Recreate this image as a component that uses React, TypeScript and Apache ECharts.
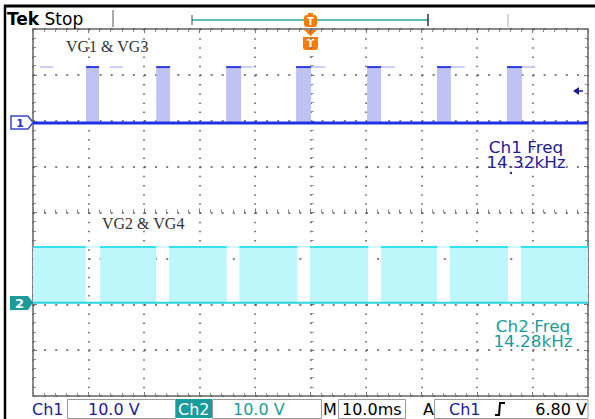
import React, { useEffect, useRef } from "react";
import * as echarts from "echarts";

// Time base: 10 ms/div, 10 divisions
const timeTicks = [0, 10, 20, 30, 40, 50, 60, 70, 80, 90, 100];
// Vertical: 10 V/div, 8 divisions (display volts)
const voltRange = [-40, 40];

// Channel 1 (VG1 & VG3)
const ch1Ground = 19.5;
const ch1Amplitude = 12.2;
const ch1PulseStart = [9.55, 22.2, 34.8, 47.4, 60.2, 72.8, 85.4];
const ch1PulseEnd = [11.9, 24.7, 37.5, 50.1, 62.7, 75.3, 88.1];
const ch1GhostStart = [1.3, 13.9, 37.5, 50.1, 62.7, 75.3, 88.1];
const ch1GhostEnd = [3.6, 16.2, 39.6, 52.6, 65.2, 77.8, 90.5];

// Channel 2 (VG2 & VG4)
const ch2Ground = -19.7;
const ch2Amplitude = 12.2;
const ch2HighStart = [0, 12.1, 24.5, 37.2, 49.9, 62.7, 75.1, 87.9];
const ch2HighEnd = [9.5, 22.2, 34.9, 47.6, 60.4, 72.8, 85.6, 100];

const ch1Label = "VG1 & VG3";
const ch2Label = "VG2 & VG4";
const ch1FreqText = ["Ch1 Freq", "14.32kHz"];
const ch2FreqText = ["Ch2 Freq", "14.28kHz"];

const NAVY = "#1c1c96";
const TEAL = "#1a9c9c";
const SANS = "DejaVu Sans";

function pulseSeries(name: string, starts: number[], ends: number[], lo: number, hi: number, fill: string, top: string, z: number) {
  return {
    name,
    type: "custom",
    z,
    data: starts.map((s, i) => [s, ends[i], lo, hi]),
    renderItem: (_p: any, api: any) => {
      const a = api.coord([api.value(0), api.value(3)]);
      const b = api.coord([api.value(1), api.value(2)]);
      return {
        type: "group",
        children: [
          { type: "rect", shape: { x: a[0], y: a[1], width: b[0] - a[0], height: b[1] - a[1] }, style: { fill } },
          { type: "line", shape: { x1: a[0], y1: a[1], x2: b[0], y2: a[1] }, style: { stroke: top, lineWidth: 2 } },
        ],
      };
    },
  };
}

function ghostSeries(starts: number[], ends: number[], level: number, color: string) {
  return {
    type: "custom",
    z: 2,
    data: starts.map((s, i) => [s, ends[i], level]),
    renderItem: (_p: any, api: any) => {
      const a = api.coord([api.value(0), api.value(2)]);
      const b = api.coord([api.value(1), api.value(2)]);
      return { type: "line", shape: { x1: a[0], y1: a[1], x2: b[0], y2: b[1] }, style: { stroke: color, lineWidth: 2 } };
    },
  };
}

function flatLine(level: number, color: string, width: number, z: number) {
  return {
    type: "line",
    z,
    symbol: "none",
    data: [[timeTicks[0], level], [timeTicks[timeTicks.length - 1], level]],
    lineStyle: { color, width },
  };
}

export default function App() {
  const ref = useRef<HTMLDivElement>(null);
  useEffect(() => {
    const chart = echarts.init(ref.current!, undefined, { renderer: "svg" });
    const tickCommon = {
      axisLabel: { show: false },
      axisTick: { show: true, inside: true, length: 4, lineStyle: { color: "#777", width: 1 } },
      minorTick: { show: true, splitNumber: 5, length: 3, lineStyle: { color: "#888", width: 1 } },
    };
    const xBase = { type: "value", min: timeTicks[0], max: timeTicks[timeTicks.length - 1], interval: 10 };
    const yBase = { type: "value", min: voltRange[0], max: voltRange[1], interval: 10 };
    chart.setOption({
      animation: false,
      backgroundColor: "#ffffff",
      grid: { left: 33, top: 29, width: 555, height: 367, show: true, borderColor: "#8a8a8a", borderWidth: 2, backgroundColor: "transparent" },
      xAxis: [
        {
          ...xBase, position: "bottom",
          axisLine: { show: false, onZero: false },
          ...tickCommon,
          splitLine: { show: true, lineStyle: { color: "#555", width: 1.5, type: [1.5, 7.675] } },
        },
        { ...xBase, position: "top", axisLine: { show: false, onZero: false }, ...tickCommon, splitLine: { show: false } },
        { ...xBase, position: "bottom", offset: -183.5, axisLine: { show: false, onZero: false }, ...tickCommon, splitLine: { show: false } },
      ],
      yAxis: [
        {
          ...yBase, position: "left",
          axisLine: { show: false, onZero: false },
          ...tickCommon,
          splitLine: { show: true, lineStyle: { color: "#555", width: 1.6, type: [2, 9.1] } },
        },
        { ...yBase, position: "right", axisLine: { show: false, onZero: false }, ...tickCommon, splitLine: { show: false } },
        { ...yBase, position: "left", offset: -277.5, axisLine: { show: false, onZero: false }, ...tickCommon, splitLine: { show: false } },
      ],
      series: [
        ghostSeries(ch1GhostStart, ch1GhostEnd, ch1Ground + ch1Amplitude, "#c9cef5"),
        flatLine(ch2Ground + ch2Amplitude, "#c4f4f7", 1.5, 2),
        pulseSeries("Ch2", ch2HighStart, ch2HighEnd, ch2Ground, ch2Ground + ch2Amplitude, "#bdf6fb", "#33e2ee", 3),
        pulseSeries("Ch1", ch1PulseStart, ch1PulseEnd, ch1Ground, ch1Ground + ch1Amplitude, "#bfc3f3", "#2c3ce0", 3),
        flatLine(ch1Ground, "#1f31e4", 3, 4),
        flatLine(ch2Ground, "#2ad6de", 2, 4),
      ],
      graphic: [
        // frame
        { type: "line", shape: { x1: 4, y1: 6, x2: 595, y2: 6 }, style: { stroke: "#000", lineWidth: 3 } },
        { type: "line", shape: { x1: 5, y1: 5, x2: 5, y2: 419 }, style: { stroke: "#000", lineWidth: 2.5 } },
        // top status
        { type: "text", x: 7, y: 19, style: { text: "{b|Tek} Stop", font: `17px ${SANS}`, fill: "#000", verticalAlign: "middle", rich: { b: { font: `bold 17px ${SANS}`, fill: "#000" } } } },
        { type: "line", shape: { x1: 113, y1: 10, x2: 113, y2: 27 }, style: { stroke: "#555", lineWidth: 1 } },
        { type: "line", shape: { x1: 192, y1: 20, x2: 428, y2: 20 }, style: { stroke: "#2aa6a6", lineWidth: 1.5 } },
        { type: "line", shape: { x1: 192, y1: 15, x2: 192, y2: 25 }, style: { stroke: "#444", lineWidth: 1 } },
        { type: "line", shape: { x1: 428, y1: 14, x2: 428, y2: 26 }, style: { stroke: "#333", lineWidth: 1.5 } },
        { type: "line", shape: { x1: 508, y1: 14, x2: 508, y2: 27 }, style: { stroke: "#b0b0b0", lineWidth: 1 } },
        // trigger markers
        { type: "rect", shape: { x: 304, y: 15, width: 13, height: 12, r: 3 }, style: { fill: "#ff7a00" } },
        { type: "rect", shape: { x: 308, y: 13, width: 5, height: 3 }, style: { fill: "#ff7a00" } },
        { type: "text", x: 310.5, y: 21.5, style: { text: "T", font: `bold 10px ${SANS}`, fill: "#fff", align: "center", verticalAlign: "middle" } },
        { type: "polygon", shape: { points: [[304, 30], [317, 30], [310.5, 36]] }, style: { fill: "#ff7a00" } },
        { type: "rect", shape: { x: 303, y: 37, width: 15, height: 13, r: [0, 0, 3, 3] }, style: { fill: "#ff7a00" } },
        { type: "text", x: 310.5, y: 43.5, style: { text: "T", font: `bold 11px ${SANS}`, fill: "#fff", align: "center", verticalAlign: "middle" } },
        // right arrow (trigger level)
        { type: "polygon", shape: { points: [[573, 91], [579, 87], [579, 95]] }, style: { fill: NAVY } },
        { type: "line", shape: { x1: 578, y1: 91, x2: 583, y2: 91 }, style: { stroke: NAVY, lineWidth: 1.5 } },
        // channel markers
        { type: "polygon", shape: { points: [[11, 116], [28, 116], [33, 122.5], [28, 129], [11, 129]] }, style: { fill: "#fff", stroke: "#3a44d0", lineWidth: 1.5 } },
        { type: "text", x: 20, y: 123, style: { text: "1", font: `bold 11px ${SANS}`, fill: "#2a34c8", align: "center", verticalAlign: "middle" } },
        { type: "polygon", shape: { points: [[10, 296], [28, 296], [33, 302.5], [28, 310], [10, 310]] }, style: { fill: TEAL } },
        { type: "text", x: 19.5, y: 303, style: { text: "2", font: `bold 13px ${SANS}`, fill: "#fff", align: "center", verticalAlign: "middle" } },
        // labels
        { type: "text", x: 66, y: 46, style: { text: ch1Label, font: "16px 'Liberation Serif'", fill: "#333", verticalAlign: "middle" } },
        { type: "text", x: 102, y: 223, style: { text: ch2Label, font: "16px 'Liberation Serif'", fill: "#333", verticalAlign: "middle" } },
        { type: "text", x: 526, y: 155.5, scaleX: 1.12, style: { text: ch1FreqText.join("\n"), font: `15px ${SANS}`, lineHeight: 15, fill: NAVY, align: "center", verticalAlign: "middle" } },
        { type: "circle", shape: { cx: 511, cy: 173, r: 1.2 }, style: { fill: NAVY } },
        { type: "text", x: 533, y: 334.5, scaleX: 1.12, style: { text: ch2FreqText.join("\n"), font: `15px ${SANS}`, lineHeight: 15, fill: TEAL, align: "center", verticalAlign: "middle" } },
        // bottom status bar
        { type: "text", x: 32, y: 409, style: { text: "Ch1", font: `16px ${SANS}`, fill: NAVY, verticalAlign: "middle" } },
        { type: "rect", shape: { x: 67.5, y: 399.5, width: 108, height: 19 }, style: { fill: "none", stroke: "#9a9a9a", lineWidth: 1 } },
        { type: "text", x: 88, y: 409, style: { text: "10.0 V", font: `16px ${SANS}`, fill: NAVY, verticalAlign: "middle" } },
        { type: "rect", shape: { x: 176, y: 399, width: 36, height: 19 }, style: { fill: TEAL } },
        { type: "text", x: 178, y: 409, style: { text: "Ch2", font: `16px ${SANS}`, fill: "#fff", verticalAlign: "middle" } },
        { type: "rect", shape: { x: 212.5, y: 399.5, width: 109, height: 19 }, style: { fill: "none", stroke: "#9a9a9a", lineWidth: 1 } },
        { type: "text", x: 233, y: 409, style: { text: "10.0 V", font: `16px ${SANS}`, fill: TEAL, verticalAlign: "middle" } },
        { type: "text", x: 323, y: 409, style: { text: "M", font: `16px ${SANS}`, fill: "#000", verticalAlign: "middle" } },
        { type: "rect", shape: { x: 338.5, y: 399.5, width: 67, height: 19 }, style: { fill: "none", stroke: "#9a9a9a", lineWidth: 1 } },
        { type: "text", x: 342, y: 409, style: { text: "10.0ms", font: `16px ${SANS}`, fill: "#000", verticalAlign: "middle" } },
        { type: "text", x: 423, y: 409, style: { text: "A", font: `16px ${SANS}`, fill: "#000", verticalAlign: "middle" } },
        { type: "rect", shape: { x: 434.5, y: 399.5, width: 153.5, height: 19 }, style: { fill: "none", stroke: "#9a9a9a", lineWidth: 1 } },
        { type: "text", x: 449, y: 409, style: { text: "Ch1", font: `16px ${SANS}`, fill: NAVY, verticalAlign: "middle" } },
        { type: "polyline", shape: { points: [[495, 415], [499, 415], [500, 403], [505, 403]] }, style: { stroke: "#000", lineWidth: 2, fill: "none" } },
        { type: "text", x: 587, y: 409, style: { text: "6.80 V", font: `16px ${SANS}`, fill: "#000", align: "right", verticalAlign: "middle" } },
      ],
    });
    return () => chart.dispose();
  }, []);
  return <div ref={ref} style={{ position: "absolute", left: 0, top: 0, width: 595, height: 419, background: "#fff" }} />;
}
